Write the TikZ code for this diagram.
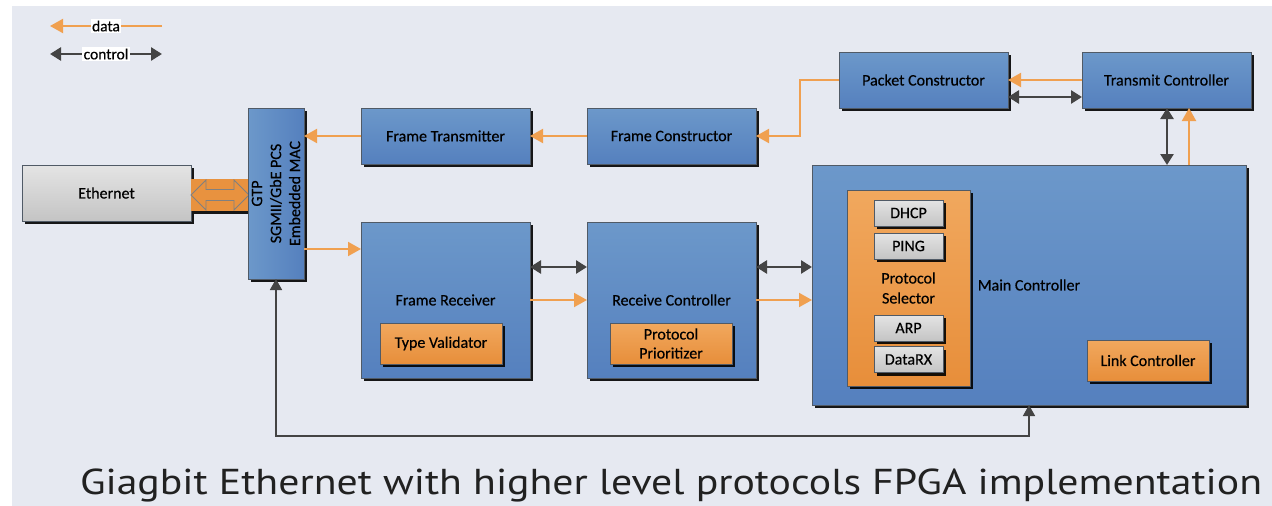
\documentclass[tikz,border=0pt]{standalone}
\usepackage{fontspec}
\usepackage{graphicx}
\setmainfont[FakeBold=0.4]{Carlito}
\newfontfamily\titlefont{PT Sans}
\usetikzlibrary{arrows.meta,shadows}

\definecolor{bgcol}{RGB}{230,233,241}
\definecolor{blueT}{RGB}{108,152,202}
\definecolor{blueB}{RGB}{85,128,190}
\definecolor{orT}{RGB}{241,168,94}
\definecolor{orB}{RGB}{231,142,58}
\definecolor{grT}{RGB}{228,228,228}
\definecolor{grB}{RGB}{196,196,196}
\definecolor{edgec}{RGB}{80,90,102}
\definecolor{datac}{RGB}{240,160,80}
\definecolor{ctrlc}{RGB}{68,68,68}

\begin{document}
\begin{tikzpicture}[x=1pt,y=-1pt,
  font=\fontsize{16}{19}\selectfont,
  every node/.style={outer sep=0pt, text=black},
  shadebox/.style={draw=edgec, line width=0.8pt, inner sep=0pt,
    drop shadow={shadow xshift=3pt, shadow yshift=-3pt, fill=black, opacity=0.9}},
  bluebox/.style={shadebox, top color=blueT, bottom color=blueB},
  orbox/.style={shadebox, top color=orT, bottom color=orB},
  graybox/.style={shadebox, top color=grT, bottom color=grB},
  databox/.style={draw=datac, line width=2pt, -{Triangle[length=13pt,width=14pt]}},
  ctrlarrow/.style={draw=ctrlc, line width=2.6pt,
    {Triangle[length=11pt,width=13pt]}-{Triangle[length=11pt,width=13pt]}},
  backlink/.style={draw=ctrlc, line width=1.6pt,
    {Triangle[length=11pt,width=12pt]}-{Triangle[length=11pt,width=12pt]}},
  legendtext/.style={fill=white, inner sep=1.5pt, font=\fontsize{15.5}{17}\selectfont}
]
\useasboundingbox (0,0) rectangle (1272,506);
\fill[bgcol] (12,6) rectangle (1272,506);

% legend
\coordinate (d1) at (50,26);
\coordinate (d2) at (162,26);
\coordinate (c1) at (50,54);
\coordinate (c2) at (162,54);
\draw[databox] (d2) -- node[legendtext] (datalbl) {data} (d1);
\draw[ctrlarrow] (c1) -- node[legendtext] (ctrllbl) {control} (c2);

% physical side
\node[graybox, minimum width=169pt, minimum height=56pt] (eth) at (106.5,193) {Ethernet};
\node[shadebox, draw=none, fill=orB!85!orT, minimum width=58pt, minimum height=32pt] (conn) at (220,195) {};
\draw[black!50, line width=0.8pt] ([xshift=-29pt]conn.center) -- ++(15,-15) -- ++(0,9.5)
  -- ++(28,0) -- ++(0,-9.5) -- ++(15,15) -- ++(-15,15) -- ++(0,-9.5) -- ++(-28,0)
  -- ++(0,9.5) -- cycle;

\node[shadebox, left color=blueT, right color=blueB, minimum width=56pt, minimum height=171pt] (gtp) at (276,193.5) {};
\node[rotate=90, align=center, font=\fontsize{16}{19}\selectfont] (gtplbl) at (gtp.center) {GTP\\SGMII/GbE PCS\\Embedded MAC};

% transmit path
\node[bluebox, minimum width=169pt, minimum height=56pt] (ft) at (445.5,136) {Frame Transmitter};
\node[bluebox, minimum width=169pt, minimum height=56pt] (fc) at (671.5,136) {Frame Constructor};
\node[bluebox, minimum width=169pt, minimum height=56pt] (pc) at (923.5,80) {Packet Constructor};
\node[bluebox, minimum width=169pt, minimum height=56pt] (tc) at (1166.5,80) {Transmit Controller};

% receive path
\node[bluebox, minimum width=169pt, minimum height=156pt] (fr) at (445.5,300) {Frame Receiver};
\node[orbox, minimum width=122pt, minimum height=41pt] (tv) at (441,343.5) {Type Validator};
\node[bluebox, minimum width=169pt, minimum height=156pt] (rc) at (671.5,300) {Receive Controller};
\node[orbox, minimum width=122pt, minimum height=41pt, align=center, font=\fontsize{16}{19}\selectfont] (pp) at (671,343.5) {Protocol\\Prioritizer};

% main controller
\node[bluebox, minimum width=434pt, minimum height=240pt] (mc) at (1029,285) {Main Controller};
\node[orbox, minimum width=123pt, minimum height=196pt] (ps) at (908.5,288) {};
\node[align=center, font=\fontsize{16}{20}\selectfont] (pslbl) at (908.5,288) {Protocol\\Selector};
\node[graybox, minimum width=69pt, minimum height=26pt] (dhcp) at (908.5,213) {DHCP};
\node[graybox, minimum width=69pt, minimum height=26pt] (ping) at (908.5,246) {PING};
\node[graybox, minimum width=69pt, minimum height=26pt] (arp) at (908.5,328) {ARP};
\node[graybox, minimum width=69pt, minimum height=26pt] (drx) at (908.5,359.5) {DataRX};
\node[orbox, minimum width=122pt, minimum height=41pt] (lc) at (1148,360.5) {Link Controller};

% data connectors
\draw[databox] (tc.west) -- (pc.east);
\draw[databox] (pc.west) -- ++(-39,0) |- (fc.east);
\draw[databox] (fc.west) -- (ft.east);
\draw[databox] (ft.west) -- (ft.west -| gtp.east);
\draw[databox] (gtp.east |- 0,249) -- (fr.west |- 0,249);
\draw[databox] (fr.east |- 0,300) -- (rc.west |- 0,300);
\draw[databox] (rc.east |- 0,300) -- (mc.west |- 0,300);
\draw[databox] (mc.north -| 1189,0) -- (tc.south -| 1189,0);

% control connectors
\draw[ctrlarrow] ([yshift=-17pt]pc.east) -- ([yshift=-17pt]tc.west);
\draw[ctrlarrow] (fr.east |- 0,267) -- (rc.west |- 0,267);
\draw[ctrlarrow] (rc.east |- 0,267) -- (mc.west |- 0,267);
\draw[ctrlarrow] (tc.south -| 1167,0) -- (mc.north -| 1167,0);
\draw[backlink] (gtp.south) -- (gtp.south |- 0,436) -| (mc.south);

% caption
\node[anchor=base west, inner sep=0pt, text=black!87] (title) at (80,494)
  {\resizebox{1182pt}{\height}{\titlefont\fontsize{36}{40}\selectfont Giagbit Ethernet with higher level protocols FPGA implementation}};
\end{tikzpicture}
\end{document}
